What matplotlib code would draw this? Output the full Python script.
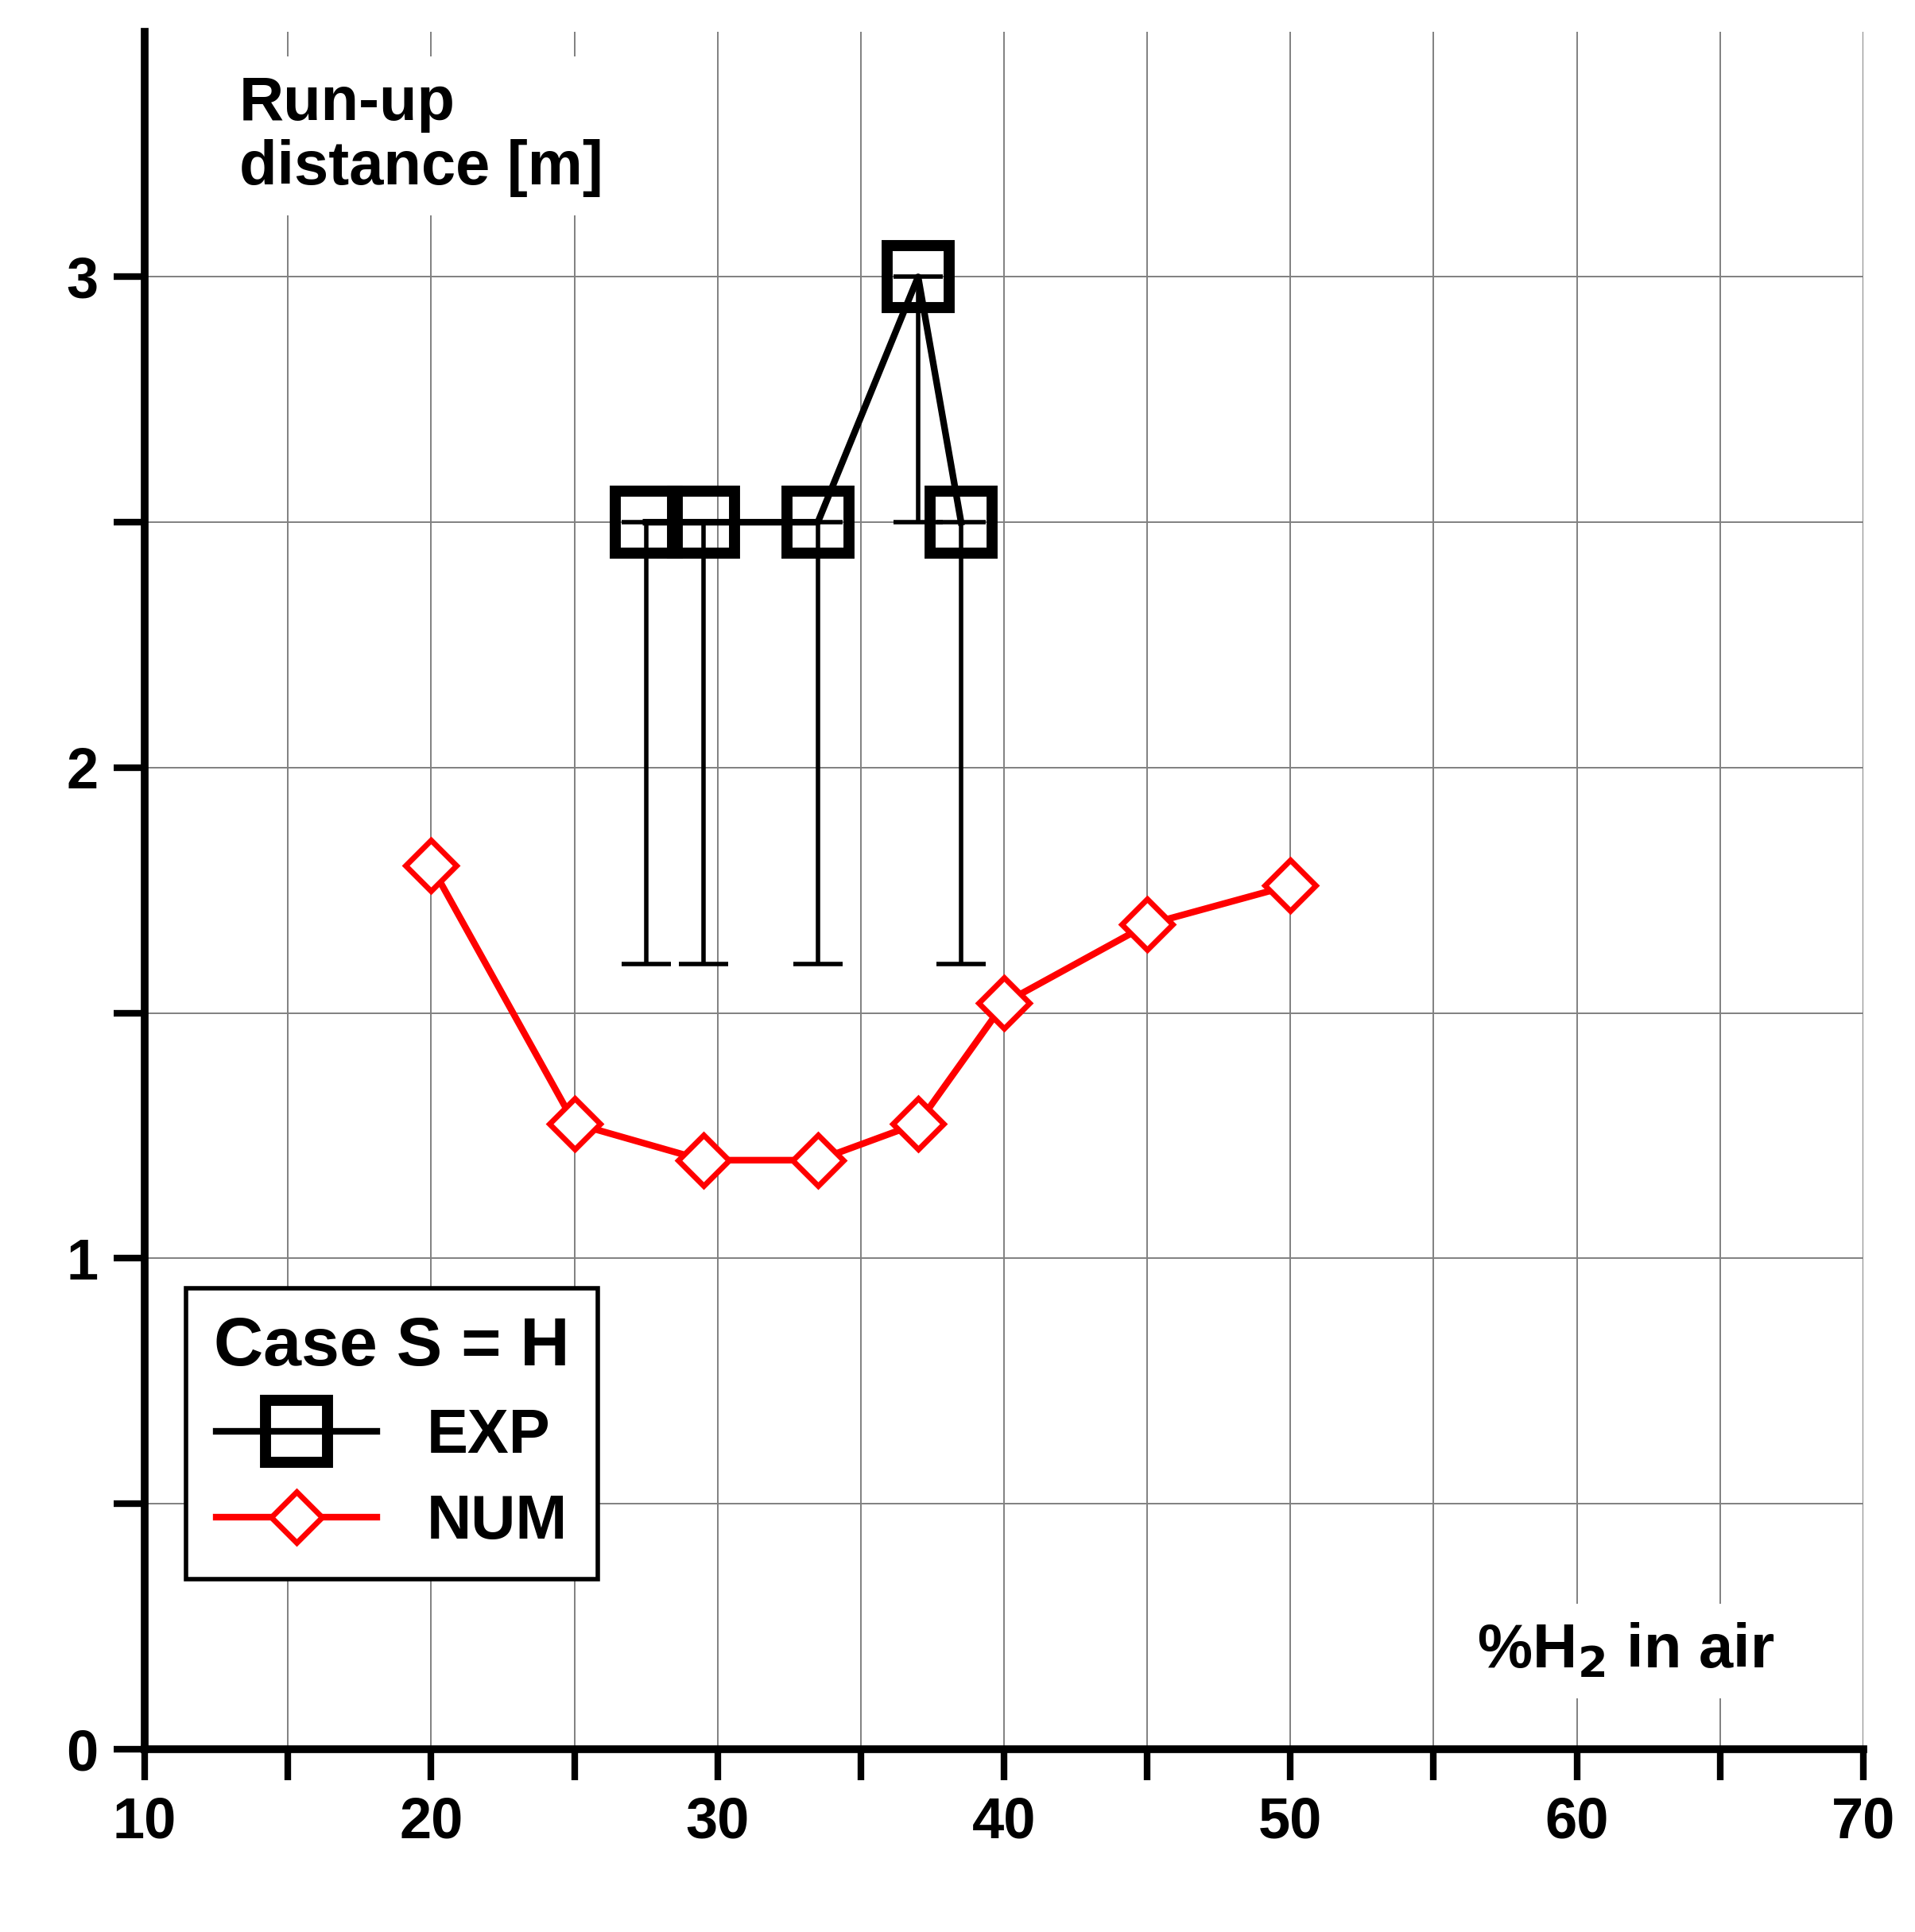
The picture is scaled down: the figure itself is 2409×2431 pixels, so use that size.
import numpy as np
import matplotlib.pyplot as plt

plt.rcParams["font.family"] = ["Liberation Sans", "DejaVu Sans"]
plt.rcParams["font.weight"] = "bold"

exp_x = [27.5, 29.5, 33.5, 37.0, 38.5]
exp_y = [2.5, 2.5, 2.5, 3.0, 2.5]
exp_lo = [1.6, 1.6, 1.6, 2.5, 1.6]
num_x = [20, 25, 29.5, 33.5, 37, 40, 45, 50]
num_y = [1.8, 1.275, 1.2, 1.2, 1.275, 1.52, 1.68, 1.76]

fig = plt.figure(figsize=(24.09, 24.31), dpi=100)
ax = fig.add_axes([0.0756, 0.0947, 0.8974, 0.889])
ax.set_xlim(10, 70)
ax.set_ylim(0, 3.5)

ax.set_xticks(np.arange(10, 71, 10))
ax.set_xticks(np.arange(15, 70, 10), minor=True)
ax.set_yticks([0, 1, 2, 3])
ax.set_yticks([0.5, 1.5, 2.5], minor=True)
ax.grid(which="both", color="#808080", linewidth=1.4)
ax.set_axisbelow(True)
for s in ["top", "right"]:
    ax.spines[s].set_visible(False)
for s in ["left", "bottom"]:
    ax.spines[s].set_linewidth(7)
ax.tick_params(which="both", direction="out", width=6, length=28, labelsize=52, pad=14)

# error bars (downward only)
lower = np.array(exp_y) - np.array(exp_lo)
ax.errorbar(exp_x, exp_y, yerr=[lower, np.zeros_like(lower)], fmt="none",
            ecolor="black", elinewidth=4, capsize=22, capthick=4, zorder=3)
ax.plot(exp_x, exp_y, color="black", lw=6, marker="s", markersize=56,
        markerfacecolor="none", markeredgewidth=10, label="EXP", zorder=4)
ax.plot(num_x, num_y, color="red", lw=6, marker="D", markersize=33,
        markerfacecolor="white", markeredgewidth=5, label="NUM", zorder=4)

ax.text(0.055, 0.975, "Run-up\ndistance [m]", transform=ax.transAxes, fontsize=56,
        va="top", ha="left", linespacing=1.15,
        bbox=dict(facecolor="white", edgecolor="none", pad=16))
ax.text(0.775, 0.04, "%H$_\\mathbf{2}$ in air", transform=ax.transAxes, fontsize=56,
        va="bottom", ha="left",
        bbox=dict(facecolor="white", edgecolor="none", pad=16))

leg = ax.legend(loc="lower left", bbox_to_anchor=(0.024, 0.099), title="Case S = H",
                fontsize=56, title_fontproperties={"size": 62, "weight": "bold"},
                frameon=True, fancybox=False, edgecolor="black", framealpha=1,
                handlelength=2.6, borderpad=0.45, labelspacing=0.45, borderaxespad=0)
leg.get_frame().set_linewidth(4)

fig.savefig("out.png", dpi=100)
